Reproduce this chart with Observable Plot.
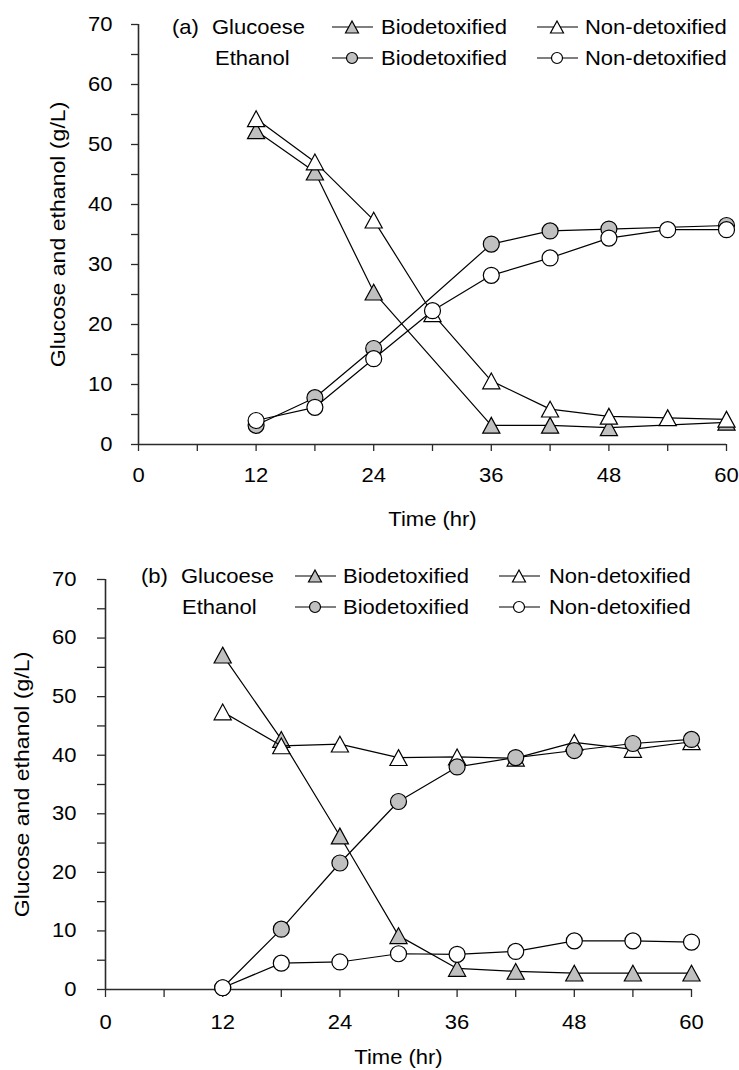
<!DOCTYPE html>
<html>
<head>
<meta charset="utf-8">
<script src="https://cdn.jsdelivr.net/npm/d3@7"></script>
<script src="https://cdn.jsdelivr.net/npm/@observablehq/plot@0.6"></script>
<style>
  body { margin: 0; background: #fff; }
  #chart { position: relative; width: 739px; height: 1070px; }
  #chart svg { display: block; overflow: visible; }
</style>
</head>
<body>
<div id="chart"></div>
<script>
// ---------------- DATA ----------------
// Panel (a)
const timeA = [12, 18, 24, 30, 36, 42, 48, 54, 60];
const timeABio = [12, 18, 24, 36, 42, 48, 60];
const glucoseBioA = [52.3, 45.4, 25.4, 3.2, 3.2, 2.8, 3.7];
const glucoseNonA = [54.3, 47.1, 37.4, 21.8, 10.6, 5.9, 4.7, 4.45, 4.2];
const ethanolBioA = [3.2, 7.8, 16.0, 33.4, 35.6, 35.9, 36.5];
const ethanolNonA = [4.0, 6.2, 14.3, 22.3, 28.2, 31.1, 34.4, 35.8, 35.8];

// Panel (b)
const timeB = [12, 18, 24, 30, 36, 42, 48, 54, 60];
const glucoseBioB = [57.1, 42.7, 26.2, 9.2, 3.6, 3.1, 2.8, 2.8, 2.8];
const glucoseNonB = [47.4, 41.6, 41.9, 39.6, 39.7, 39.5, 42.2, 41.0, 42.3];
const ethanolBioB = [0.3, 10.3, 21.6, 32.1, 38.0, 39.6, 40.8, 42.0, 42.7];
const ethanolNonB = [0.3, 4.5, 4.7, 6.1, 6.0, 6.5, 8.3, 8.3, 8.1];

// Ticks
const xTickValues = [0, 6, 12, 18, 24, 30, 36, 42, 48, 54, 60];
const xTickLabels = [0, 12, 24, 36, 48, 60];
const yTickValues = [0, 5, 10, 15, 20, 25, 30, 35, 40, 45, 50, 55, 60, 65, 70];
const yTickLabels = [0, 10, 20, 30, 40, 50, 60, 70];

// Text
const panelTags = ["(a)", "(b)"];
const legendRowLabels = ["Glucoese", "Ethanol"];
const seriesLabels = ["Biodetoxified", "Non-detoxified"];
const xTitle = "Time (hr)";
const yTitle = "Glucose and ethanol (g/L)";

// ---------------- STYLE ----------------
const FONT = "'Liberation Sans', Arial, Helvetica, sans-serif";
const GRAY = "#c0c0c0";
const STRETCH = 1.1;
const tri = {
  draw(ctx, size) {
    const r = Math.sqrt(size / Math.PI);
    const w = r * 1.3, h = r * 1.2;
    ctx.moveTo(0, -h); ctx.lineTo(w, h); ctx.lineTo(-w, h); ctx.closePath();
  }
};

const rows = (t, v) => t.map((x, i) => ({t: x, v: v[i]}));

function makePanel(cfg) {
  const marks = [
    Plot.ruleX([0], {y1: 0, y2: 70, stroke: "#2a2a2a", strokeWidth: 1.6}),
    Plot.ruleY([0], {x1: 0, x2: 60, stroke: "#2a2a2a", strokeWidth: 1.6}),
    Plot.axisY({
      ticks: yTickValues, tickSize: cfg.tickSize, tickPadding: cfg.padY,
      tickFormat: d => yTickLabels.includes(d) ? String(d) : "",
      label: null, stroke: "#2a2a2a", strokeWidth: 1.3, fill: "black"
    }),
    Plot.axisX({
      ticks: xTickValues, tickSize: cfg.tickSize, tickPadding: cfg.padX,
      tickFormat: d => xTickLabels.includes(d) ? String(d) : "",
      label: null, stroke: "#2a2a2a", strokeWidth: 1.3, fill: "black"
    }),
    Plot.text([yTitle], {
      frameAnchor: "left", rotate: -90, dx: cfg.yLabelDx, fontSize: 21, fill: "black",
      textAnchor: "middle", lineAnchor: "middle"
    }),
    Plot.text([xTitle], {
      frameAnchor: "bottom", dy: cfg.xLabelDy, fontSize: 20, fill: "black",
      textAnchor: "middle", lineAnchor: "middle"
    })
  ];
  for (const s of cfg.series) {
    const data = rows(s.t, s.v);
    marks.push(Plot.line(data, {x: "t", y: "v", stroke: "black", strokeWidth: 1.2}));
    marks.push(Plot.dot(data, {
      x: "t", y: "v", symbol: s.symbol, r: s.symbol === tri ? 6.6 : 8,
      fill: s.fill, stroke: "black", strokeWidth: 1.2
    }));
  }
  const svg = Plot.plot({
    width: 739, height: cfg.height,
    marginTop: cfg.mt, marginBottom: cfg.mb, marginLeft: cfg.ml, marginRight: cfg.mr,
    x: {domain: [0, 60], axis: null},
    y: {domain: [0, 70], axis: null},
    style: {fontSize: "20px", fontFamily: FONT, color: "black", background: "white"},
    marks
  });
  drawLegend(svg, cfg.legend);
  stretchText(svg, STRETCH);
  return svg;
}

function drawLegend(svg, L) {
  const g = d3.select(svg).append("g")
    .attr("font-family", FONT).attr("font-size", 20).attr("fill", "black")
    .attr("text-anchor", "start");
  const text = (x, y, s) => g.append("text").attr("x", x).attr("y", y).attr("dy", "0.35em").text(s);
  text(L.tagX, L.y1, L.tag);
  text(L.gluX, L.y1, legendRowLabels[0]);
  text(L.ethX, L.y2, legendRowLabels[1]);
  const cols = [
    {x0: L.c1[0], x1: L.c1[1], m: L.c1[2], tx: L.c1[3], fill: GRAY, label: seriesLabels[0]},
    {x0: L.c2[0], x1: L.c2[1], m: L.c2[2], tx: L.c2[3], fill: "white", label: seriesLabels[1]}
  ];
  const rowsDef = [{y: L.y1, sym: tri, r: 5}, {y: L.y2, sym: d3.symbolCircle, r: 5.5}];
  for (const rw of rowsDef) {
    for (const c of cols) {
      g.append("line").attr("x1", c.x0).attr("x2", c.x1).attr("y1", rw.y).attr("y2", rw.y)
        .attr("stroke", "black").attr("stroke-width", 1.2);
      g.append("path").attr("d", d3.symbol(rw.sym, Math.PI * rw.r * rw.r)())
        .attr("transform", `translate(${c.m},${rw.y})`)
        .attr("fill", c.fill).attr("stroke", "black").attr("stroke-width", 1.2);
      text(c.tx, rw.y, c.label);
    }
  }
}

// widen glyphs horizontally (the reference font renders wider than Arial)
function stretchText(svg, k) {
  d3.select(svg).selectAll("text").each(function () {
    const t = this.getAttribute("transform") || "";
    const xs = this.getAttribute("x");
    if (xs != null && xs !== "" && !isNaN(+xs)) this.setAttribute("x", +xs / k);
    this.setAttribute("transform", `${t} scale(${k},1)`.trim());
  });
}

// ---------------- BUILD ----------------
const root = document.getElementById("chart");

const svgA = makePanel({
  height: 540, mt: 24, mb: 96, ml: 138, mr: 13,
  tickSize: 7, padY: 19, padX: 16, yLabelDx: -80, xLabelDy: 75,
  series: [
    {t: timeABio, v: glucoseBioA, fill: GRAY, symbol: tri},
    {t: timeA, v: glucoseNonA, fill: "white", symbol: tri},
    {t: timeABio, v: ethanolBioA, fill: GRAY, symbol: "circle"},
    {t: timeA, v: ethanolNonA, fill: "white", symbol: "circle"}
  ],
  legend: {tag: panelTags[0], tagX: 172, gluX: 212, ethX: 215, y1: 27, y2: 58,
           c1: [332, 373, 352, 381], c2: [537, 578, 557, 585]}
});

const svgB = makePanel({
  height: 530, mt: 39, mb: 81, ml: 105, mr: 48,
  tickSize: 8, padY: 21, padX: 17, yLabelDx: -83, xLabelDy: 68,
  series: [
    {t: timeB, v: glucoseBioB, fill: GRAY, symbol: tri},
    {t: timeB, v: glucoseNonB, fill: "white", symbol: tri},
    {t: timeB, v: ethanolBioB, fill: GRAY, symbol: "circle"},
    {t: timeB, v: ethanolNonB, fill: "white", symbol: "circle"}
  ],
  legend: {tag: panelTags[1], tagX: 141, gluX: 181, ethX: 182, y1: 36, y2: 67,
           c1: [295, 336, 315, 343], c2: [499, 540, 519, 549]}
});

root.appendChild(svgA);
root.appendChild(svgB);
</script>
</body>
</html>
